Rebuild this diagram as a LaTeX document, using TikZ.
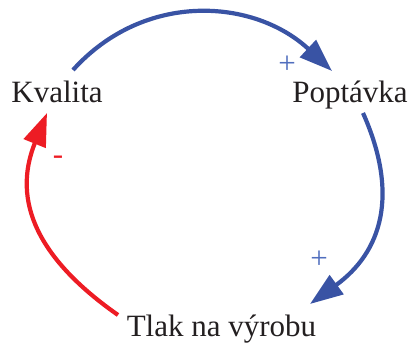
\documentclass[tikz,border=0pt]{standalone}
\usepackage{fontspec}
\setmainfont{Liberation Serif}
\usetikzlibrary{arrows.meta}
\definecolor{loopblue}{RGB}{57,83,164}
\definecolor{loopred}{RGB}{237,28,36}
\definecolor{signblue}{RGB}{80,110,190}
\definecolor{labelink}{RGB}{35,31,32}
\tikzset{
  varlabel/.style={font=\fontsize{31}{36}\selectfont,text=labelink,inner sep=0pt,anchor=base},
  signlabel/.style={font=\fontsize{31}{36}\selectfont,inner sep=0pt,anchor=base},
  posarrow/.style={draw=loopblue,line width=4.2pt,-{Triangle[length=33pt,width=23pt]}},
  negarrow/.style={draw=loopred,line width=4.2pt,-{Triangle[length=33pt,width=23pt]}},
}
\begin{document}
\begin{tikzpicture}[x=1pt,y=1pt]
  \useasboundingbox (0,0) rectangle (411,342);
  \node[varlabel] (kval) at (57,239) {Kvalita};
  \node[varlabel] (popt) at (350,239) {Poptávka};
  \node[varlabel] (tlak) at (221.5,6) {Tlak na výrobu};
  % kladne vazby
  \draw[posarrow] ([shift={(16,33)}]kval.base) to[out=48,in=137,looseness=1.05] ([shift={(-18,32)}]popt.base);
  \draw[posarrow] ([shift={(13,-10)}]popt.base) to[out=-66,in=36,looseness=1.15] ([shift={(88.5,32)}]tlak.base);
  % zaporna vazba
  \draw[negarrow] ([shift={(-103.5,21)}]tlak.base) to[out=145,in=-112,looseness=1.15] ([shift={(-10,-10)}]kval.base);
  \node[signlabel,text=signblue] (plusa) at (287,268) {+};
  \node[signlabel,text=signblue] (plusb) at (319,73) {+};
  \node[signlabel,text=loopred] (minus) at (58,177) {-};
\end{tikzpicture}
\end{document}
